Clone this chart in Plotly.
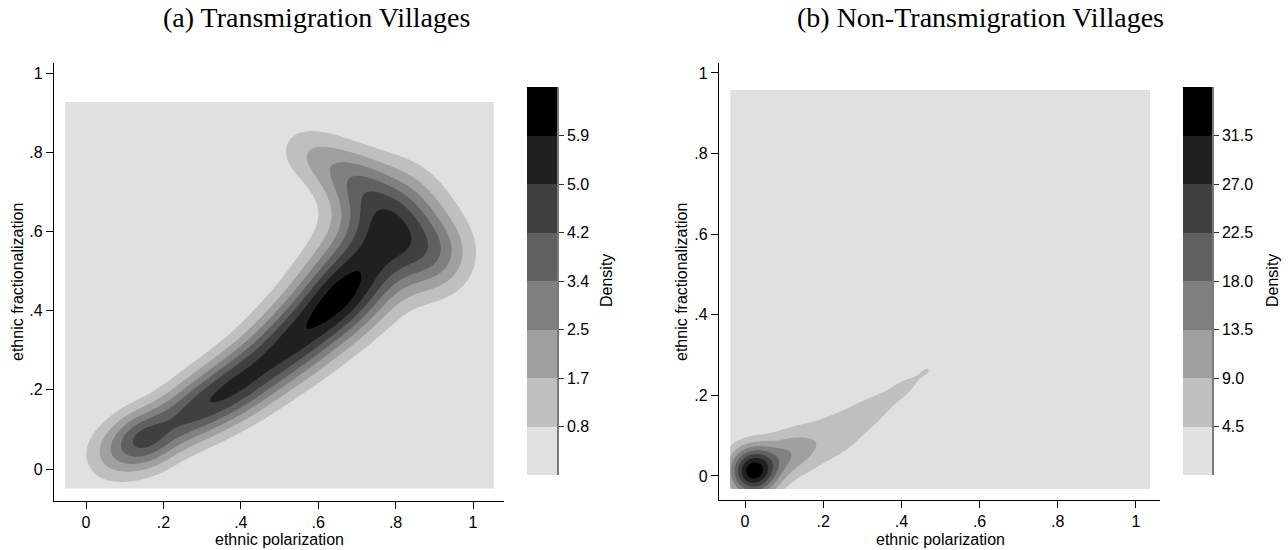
import numpy as np
import plotly.graph_objects as go

# ---------------- data ----------------
# Panel (a) Transmigration villages: density readings along the ridge and its flank
a_x = [0.05, 0.10, 0.15, 0.21, 0.27, 0.33, 0.39, 0.45, 0.51, 0.56, 0.61, 0.655, 0.70, 0.745, 0.78, 0.79,
       0.75, 0.705, 0.66, 0.605, 0.545, 0.90, 0.87]
a_y = [0.030, 0.053, 0.075, 0.106, 0.140, 0.176, 0.212, 0.255, 0.302, 0.345, 0.39, 0.435, 0.485, 0.535, 0.585, 0.635,
       0.68, 0.718, 0.75, 0.785, 0.81, 0.54, 0.66]
a_density = [2.0, 3.6, 4.6, 4.35, 4.6, 5.1, 5.3, 5.3, 5.5, 5.8, 6.2, 6.4, 6.0, 5.6, 5.5, 5.3,
             4.6, 3.8, 2.95, 2.1, 1.25, 3.7, 2.8]
a_spread = [0.052, 0.052, 0.052, 0.052, 0.054, 0.056, 0.058, 0.06, 0.063, 0.066, 0.068, 0.07, 0.075, 0.085, 0.09, 0.085,
            0.06, 0.055, 0.055, 0.052, 0.05, 0.07, 0.07]
a_levels = [0.84, 1.68, 2.52, 3.36, 4.20, 5.04, 5.88]
a_level_labels = ["0.8", "1.7", "2.5", "3.4", "4.2", "5.0", "5.9"]
a_top = 6.72
a_grid_x = (-0.054, 1.054)
a_grid_y = (-0.05, 0.927)

# Panel (b) Non-transmigration villages
b_x = [0.02, 0.06, 0.09, 0.12, 0.15, 0.18, 0.22, 0.26, 0.30, 0.34, 0.38, 0.42, 0.45, 0.48]
b_y = [0.012, 0.030, 0.045, 0.058, 0.071, 0.084, 0.094, 0.120, 0.147, 0.173, 0.200, 0.228, 0.252, 0.272]
b_density = [35.0, 26.0, 17.0, 13.3, 11.0, 9.0, 7.8, 6.8, 6.0, 5.4, 5.0, 4.75, 4.55, 4.2]
b_spread = [0.042, 0.04, 0.04, 0.042, 0.045, 0.047, 0.047, 0.048, 0.048, 0.045, 0.042, 0.04, 0.038, 0.035]
b_levels = [4.5, 9.0, 13.5, 18.0, 22.5, 27.0, 31.5]
b_level_labels = ["4.5", "9.0", "13.5", "18.0", "22.5", "27.0", "31.5"]
b_top = 36.0
b_grid_x = (-0.038, 1.036)
b_grid_y = (-0.032, 0.958)

axis_ticks = [0, 0.2, 0.4, 0.6, 0.8, 1.0]
axis_tick_labels = ["0", ".2", ".4", ".6", ".8", "1"]

shades = ["#e0e0e0", "#bfbfbf", "#a0a0a0", "#808080", "#606060", "#404040", "#202020", "#000000"]

# ---------------- surface from the readings ----------------
def surface(px, py, dens, spread, gxr, gyr, n=241):
    px, py, dens, s = map(lambda v: np.asarray(v, float), (px, py, dens, spread))
    dx = px[:, None] - px[None, :]
    dy = py[:, None] - py[None, :]
    K = np.exp(-(dx ** 2 + dy ** 2) / (2 * s[None, :] ** 2))
    w = dens.copy()
    for _ in range(2000):
        w *= dens / (K @ w)
    gx = np.linspace(gxr[0], gxr[1], n)
    gy = np.linspace(gyr[0], gyr[1], n)
    X, Y = np.meshgrid(gx, gy)
    Z = np.zeros_like(X)
    for xi, yi, wi, si in zip(px, py, w, s):
        Z += wi * np.exp(-((X - xi) ** 2 + (Y - yi) ** 2) / (2 * si ** 2))
    return gx, gy, Z


cscale = [[i / (len(shades) - 1), c] for i, c in enumerate(shades)]
FONT = "Liberation Sans, Arial, Helvetica, sans-serif"

fig = go.Figure()


def add_panel(px, py, dens, spread, gxr, gyr, levels, labels, top, xa, ya, cxa, cya):
    gx, gy, Z = surface(px, py, dens, spread, gxr, gyr)
    fig.add_trace(go.Contour(
        x=gx, y=gy, z=Z, xaxis=xa, yaxis=ya, autocontour=False,
        contours=dict(start=levels[0], end=levels[-1], size=levels[1] - levels[0],
                      coloring="fill", showlines=False),
        line=dict(width=0), colorscale=cscale, showscale=False, hoverinfo="skip"))
    edges = [0.0] + list(levels) + [top]
    fig.add_trace(go.Heatmap(
        x=[0, 1], y=edges, z=[[i] for i in range(len(shades))], zmin=0, zmax=len(shades) - 1,
        colorscale=cscale, showscale=False, xaxis=cxa, yaxis=cya, hoverinfo="skip"))


add_panel(a_x, a_y, a_density, a_spread, a_grid_x, a_grid_y, a_levels, a_level_labels, a_top, "x", "y", "x3", "y3")
add_panel(b_x, b_y, b_density, b_spread, b_grid_x, b_grid_y, b_levels, b_level_labels, b_top, "x2", "y2", "x4", "y4")

W, H = 1288, 550


def px_x(p):
    return p / W


def px_y(p):
    return (H - p) / H


main_axis = dict(
    tickvals=axis_ticks, ticktext=axis_tick_labels, ticks="outside", ticklen=7, tickwidth=1.2,
    tickcolor="#000", showline=True, linecolor="#000", linewidth=1.2, showgrid=False,
    zeroline=False, tickfont=dict(family=FONT, size=16, color="#000"))

cbar_x = dict(showticklabels=False, ticks="", showline=False, showgrid=False, zeroline=False, range=[0, 1])


def cbar_y(levels, labels, top, anchor, dom):
    return dict(anchor=anchor, domain=dom, side="right", range=[0, top], tickvals=levels, ticktext=labels,
                ticks="outside", ticklen=5, tickwidth=1.2, tickcolor="#333", showline=True,
                linecolor="#7a7a7a", linewidth=1.5, showgrid=False, zeroline=False,
                tickfont=dict(family=FONT, size=16, color="#000"))


cb_dom_y = [px_y(475), px_y(87)]

fig.update_layout(
    width=W, height=H, autosize=False, margin=dict(l=0, r=0, t=0, b=0),
    paper_bgcolor="white", plot_bgcolor="white", showlegend=False,
    xaxis=dict(main_axis, domain=[px_x(54), px_x(504)], anchor="y", range=[-0.0827, 1.0801]),
    yaxis=dict(main_axis, domain=[px_y(501), px_y(63)], anchor="x", range=[-0.0808, 1.0253]),
    xaxis2=dict(main_axis, domain=[px_x(719), px_x(1160)], anchor="y2", range=[-0.0665, 1.0614]),
    yaxis2=dict(main_axis, domain=[px_y(500), px_y(63)], anchor="x2", range=[-0.0596, 1.0248]),
    xaxis3=dict(cbar_x, domain=[px_x(527), px_x(557)], anchor="y3"),
    yaxis3=cbar_y(a_levels, a_level_labels, a_top, "x3", cb_dom_y),
    xaxis4=dict(cbar_x, domain=[px_x(1183), px_x(1212)], anchor="y4"),
    yaxis4=cbar_y(b_levels, b_level_labels, b_top, "x4", cb_dom_y),
)

ann = []
title_font = dict(family="Liberation Serif, Times New Roman, serif", size=28, color="#000")
ann.append(dict(text="(a) Transmigration Villages", x=px_x(316), y=px_y(18), font=title_font))
ann.append(dict(text="(b) Non-Transmigration Villages", x=px_x(980), y=px_y(18), font=title_font))
lab_font = dict(family=FONT, size=16, color="#000")
ann.append(dict(text="ethnic polarization", x=px_x(279), y=px_y(539), font=lab_font))
ann.append(dict(text="ethnic polarization", x=px_x(940), y=px_y(539), font=lab_font))
ann.append(dict(text="ethnic fractionalization", x=px_x(17), y=px_y(282), font=lab_font, textangle=-90))
ann.append(dict(text="ethnic fractionalization", x=px_x(681), y=px_y(282), font=lab_font, textangle=-90))
ann.append(dict(text="Density", x=px_x(606), y=px_y(281), font=lab_font, textangle=-90))
ann.append(dict(text="Density", x=px_x(1272), y=px_y(281), font=lab_font, textangle=-90))
for a in ann:
    a.update(xref="paper", yref="paper", showarrow=False, xanchor="center", yanchor="middle")
fig.update_layout(annotations=ann)

# remove the default page margin so the figure sits at the window's top-left corner
fig.write_html("out.html", config={"displayModeBar": False},
               post_script="document.body.style.margin='0px';document.body.style.padding='0px';")
